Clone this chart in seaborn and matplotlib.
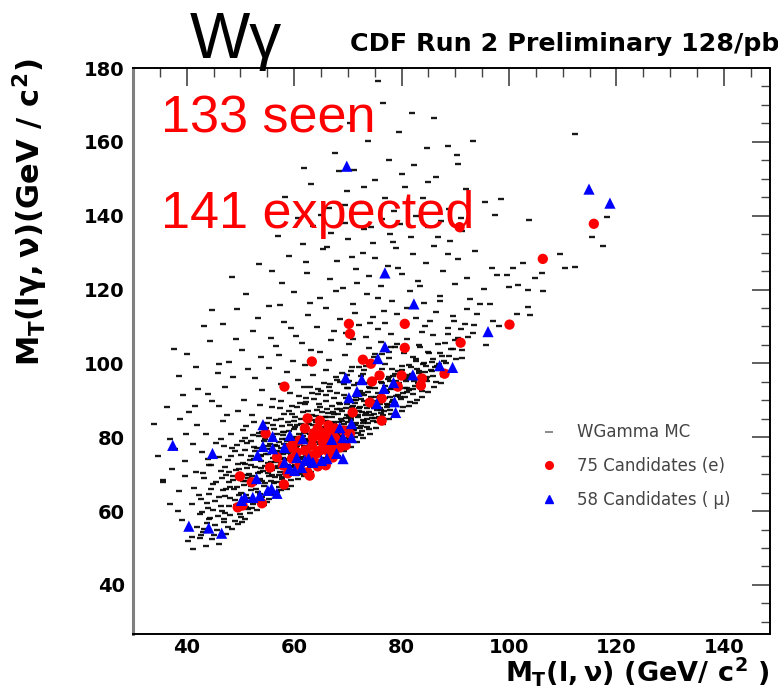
import matplotlib
matplotlib.use("Agg")
import matplotlib.pyplot as plt
import seaborn as sns
from matplotlib.lines import Line2D
from matplotlib.ticker import MultipleLocator

# Electron candidates: MT(l,nu), MT(l gamma,nu) in GeV/c^2
e_x = [115.8, 106.3, 90.8, 100.1, 91.0, 80.6, 80.6, 70.2, 70.4, 63.3,
       72.8, 74.3, 58.2, 75.9, 80.0, 83.8, 83.6, 74.5, 79.3, 88.0,
       76.3, 74.1, 70.9, 76.3, 62.5, 64.8, 66.4, 54.7, 64.0, 65.3,
       66.6, 68.1, 59.7, 56.8, 64.2, 66.4, 55.5, 58.8, 62.9, 49.9,
       52.1, 58.1, 54.0, 50.4, 49.5, 63.6, 59.2, 61.0, 63.8, 62.5,
       57.9, 63.5, 65.1, 67.2, 70.4, 64.8, 67.0, 67.2, 62.0, 63.3,
       64.4, 65.9, 67.6, 68.5, 60.5, 62.0, 65.7, 67.7, 69.2, 62.9,
       61.0, 64.4, 59.6, 65.9, 69.6]
e_y = [137.8, 128.3, 136.9, 110.5, 105.6, 110.7, 104.2, 110.7, 108.0, 100.5,
       101.0, 99.9, 93.7, 96.7, 96.7, 95.9, 94.0, 95.1, 93.7, 97.2,
       90.5, 89.4, 86.7, 84.5, 85.1, 84.5, 83.2, 81.0, 80.5, 78.8,
       79.9, 78.3, 77.8, 74.6, 75.6, 76.1, 71.8, 70.2, 69.6, 69.4,
       67.8, 67.2, 62.1, 61.5, 61.0, 81.0, 77.2, 72.4, 73.2, 70.5,
       72.4, 79.9, 80.5, 81.0, 81.0, 76.4, 76.9, 74.5, 82.4, 77.8,
       82.4, 81.3, 82.4, 77.2, 75.9, 76.4, 77.5, 79.6, 81.8, 75.1,
       79.1, 72.1, 74.2, 72.4, 77.8]

# Muon candidates
mu_x = [69.8, 114.9, 118.8, 76.9, 82.3, 96.1, 76.9, 75.6, 87.1, 89.5,
        69.6, 72.6, 78.5, 82.1, 76.7, 71.7, 70.2, 78.7, 78.9, 70.7,
        68.5, 54.2, 56.0, 59.2, 61.6, 67.0, 70.7, 54.2, 56.0, 58.2,
        53.2, 60.5, 62.7, 66.1, 67.9, 69.1, 58.2, 60.1, 37.4, 44.8,
        53.0, 55.8, 56.8, 50.8, 53.6, 50.2, 40.4, 44.1, 46.5, 75.4,
        69.1, 62.0, 63.5, 65.1, 61.4, 59.2, 52.3, 55.1]
mu_y = [153.4, 147.2, 143.4, 124.5, 116.1, 108.6, 104.5, 101.3, 99.4, 98.9,
        96.1, 95.6, 94.8, 96.9, 93.2, 92.4, 90.7, 89.6, 86.7, 83.7,
        82.6, 83.4, 80.2, 80.5, 79.6, 79.4, 79.9, 77.5, 76.9, 77.2,
        75.1, 74.5, 74.2, 74.2, 75.6, 74.2, 73.2, 71.0, 77.8, 75.6,
        68.8, 66.1, 64.8, 63.7, 64.2, 62.9, 55.9, 55.4, 54.0, 89.1,
        79.9, 73.7, 73.2, 73.7, 71.8, 71.5, 63.7, 65.6]

# W gamma Monte Carlo events
mc_points = [
    # low tail
    (41.2, 49.8), (43.5, 50.6), (40.3, 51.9), (44.8, 52.3), (46.1, 51.2), (42.7, 53.4),
    (47.3, 53.8), (45.6, 54.9), (48.4, 55.2), (41.9, 55.8), (43.8, 56.7), (49.6, 56.4),
    (46.9, 57.1), (39.2, 57.5), (44.4, 58.2), (50.8, 57.9), (48.1, 58.8), (42.5, 59.3),
    (51.7, 59.6), (46.5, 59.9), (38.4, 60.1), (49.9, 60.7), (44.0, 60.9), (53.0, 60.3),
    (47.8, 61.4),
    (36.8, 62.0), (40.9, 61.8), (52.4, 61.9), (55.0, 62.4), (45.3, 62.6), (49.0, 62.9),
    (42.6, 63.3), (51.3, 63.6), (54.1, 63.9), (47.2, 64.1), (56.3, 64.4), (44.1, 64.7),
    (50.2, 65.0), (53.3, 65.2), (38.5, 65.5), (46.8, 65.6), (57.6, 65.8), (55.5, 66.1),
    (41.4, 66.3), (49.4, 66.5), (52.0, 66.8), (58.4, 67.0), (44.9, 67.2), (54.6, 67.5),
    (47.9, 67.8), (56.9, 68.0), (50.9, 68.2), (59.5, 68.4), (53.7, 68.7), (43.2, 68.9),
    (57.8, 69.2), (48.6, 69.4), (55.8, 69.7), (60.3, 69.9), (51.6, 70.1), (35.5, 68.3),
    (39.7, 69.6),
    # core
    (41.8, 70.6), (46.4, 70.8), (54.2, 70.9), (58.8, 71.0), (61.5, 71.2), (49.7, 71.4),
    (56.7, 71.6), (63.0, 71.8), (52.8, 72.0), (59.9, 72.2), (44.6, 72.4), (55.4, 72.5),
    (62.1, 72.7), (57.6, 72.9), (50.5, 73.1), (64.3, 73.3), (60.6, 73.5), (53.9, 73.6),
    (47.7, 73.8), (58.2, 74.0), (62.9, 74.2), (65.5, 74.4), (56.0, 74.5), (61.2, 74.7),
    (51.9, 74.9), (59.4, 75.1), (64.0, 75.3), (54.8, 75.4), (66.7, 75.6), (57.3, 75.8),
    (42.9, 75.9), (62.4, 76.0), (60.1, 76.2), (48.9, 76.4), (65.2, 76.5), (55.9, 76.7),
    (63.6, 76.9), (67.8, 77.1), (58.6, 77.2), (52.6, 77.4), (61.8, 77.6), (66.1, 77.8),
    (56.5, 77.9), (64.8, 78.1), (59.7, 78.3), (68.9, 78.4), (45.5, 78.5), (62.7, 78.7),
    (54.3, 78.9), (67.0, 79.0), (60.9, 79.2), (57.8, 79.4), (65.6, 79.5), (63.9, 79.7),
    (69.7, 79.8), (50.8, 79.9),
    (55.2, 70.3), (60.4, 70.5), (57.9, 73.0), (63.7, 72.4), (59.0, 73.9), (61.7, 75.6),
    (56.9, 76.3), (58.9, 75.7), (63.1, 77.9), (60.3, 77.0), (66.4, 78.9), (62.0, 79.6),
    (64.6, 74.9), (53.1, 74.3), (57.1, 78.6), (61.4, 72.3), (59.6, 70.9), (65.9, 76.9),
    (68.1, 79.3), (55.7, 73.4), (54.0, 76.8), (50.1, 75.2), (47.1, 72.0), (44.0, 74.1),
    (49.3, 77.9), (46.3, 79.4), (52.0, 79.1), (39.6, 73.6), (37.9, 76.8), (41.2, 78.2),
    (43.6, 80.8), (48.2, 81.0), (53.4, 81.1), (58.1, 81.3), (61.9, 81.4), (65.4, 81.6),
    (68.3, 81.7), (70.9, 81.9), (63.5, 82.0), (56.2, 82.2), (66.8, 82.3), (72.2, 82.5),
    (60.2, 82.7), (69.5, 82.9), (64.6, 83.0), (51.0, 83.1), (71.3, 83.3), (67.5, 83.5),
    (62.8, 83.6), (73.8, 83.8), (58.9, 84.0), (70.1, 84.1), (65.9, 84.3), (46.7, 84.4),
    (72.9, 84.6), (68.8, 84.8), (61.3, 84.9), (75.0, 85.1), (55.4, 85.2), (67.1, 85.4),
    (71.8, 85.6), (64.0, 85.8), (74.3, 86.0), (69.9, 86.1), (59.6, 86.3), (76.2, 86.5),
    (66.3, 86.6), (72.6, 86.8), (62.5, 87.0), (49.5, 87.1), (70.7, 87.3), (75.5, 87.5),
    (67.9, 87.7), (57.3, 87.8), (73.5, 88.0), (77.3, 88.2), (64.8, 88.3), (71.0, 88.5),
    (53.6, 88.7), (68.6, 88.9), (76.0, 89.1), (61.0, 89.2), (74.1, 89.4), (78.2, 89.6),
    (66.0, 89.8), (44.8, 89.9),
    (66.1, 80.7), (69.0, 80.4), (63.0, 80.9), (71.9, 81.2), (67.2, 84.0), (70.6, 85.1),
    (73.2, 85.9), (69.3, 83.7), (65.2, 86.9), (72.0, 87.9), (74.8, 88.6), (63.8, 84.6),
    (60.6, 83.3), (68.2, 86.3), (71.4, 89.2), (58.0, 80.5), (55.0, 83.8), (52.2, 86.0),
    (50.4, 81.9), (47.5, 85.9), (42.0, 83.2), (40.4, 86.7), (46.0, 88.4),
    (56.4, 69.1), (58.3, 70.0), (60.8, 71.6), (62.6, 73.0), (64.9, 73.8), (66.3, 74.7),
    (61.0, 74.1), (63.3, 75.9), (65.0, 77.3), (67.4, 76.1), (68.6, 77.6), (66.6, 80.1),
    (69.9, 81.0), (70.4, 79.2), (72.5, 80.6), (71.2, 82.0), (73.5, 82.9), (74.6, 84.4),
    (72.8, 83.9), (70.5, 84.6), (75.8, 85.5), (76.8, 87.0), (74.0, 86.7), (77.9, 87.4),
    (78.6, 88.8), (73.0, 89.7), (69.6, 88.0), (67.1, 88.5), (64.3, 87.4), (62.2, 85.6),
    (60.0, 84.5), (57.7, 83.0), (59.1, 81.8), (61.6, 80.2), (63.9, 78.8), (58.4, 79.6),
    (56.8, 80.8), (54.6, 79.5), (53.0, 77.0), (55.1, 75.4), (57.0, 72.3), (53.6, 70.6),
    (51.2, 71.6), (52.4, 68.5), (49.8, 69.3), (48.0, 66.4), (46.0, 63.8), (51.1, 61.2),
    (50.0, 59.2), (47.0, 57.9), (45.2, 56.1), (43.1, 54.2), (41.0, 53.1), (44.9, 60.2),
    (76.9, 90.6), (79.9, 90.3), (80.6, 93.2), (83.0, 94.6), (81.2, 96.3), (84.4, 97.6),
    (86.2, 98.9), (87.9, 100.7), (88.9, 101.9), (85.9, 101.3),
    # dense ridge along the lower edge
    (50.2, 58.3), (52.1, 60.9), (53.7, 62.9), (55.4, 63.3), (56.8, 65.1), (58.1, 67.9),
    (59.4, 66.9), (60.7, 68.8), (61.8, 69.4), (63.1, 70.6), (64.5, 71.4), (65.7, 72.2),
    (66.9, 73.7), (68.2, 74.9), (69.3, 76.2), (70.5, 77.4), (71.7, 78.6), (72.9, 79.7),
    (74.2, 80.9), (75.3, 82.6), (76.5, 83.7), (77.7, 84.9), (78.9, 86.0), (80.1, 87.1),
    (81.3, 88.4), (82.5, 89.3), (83.8, 90.8), (85.0, 92.2), (86.1, 93.6), (87.3, 94.7),
    (49.5, 62.0), (51.0, 64.4), (52.9, 66.0), (54.3, 66.9), (55.7, 68.2), (57.2, 69.9),
    (58.5, 71.5), (59.9, 71.9), (61.3, 73.0), (62.5, 74.4), (63.7, 75.5), (65.1, 76.2),
    (66.3, 77.6), (67.5, 78.0), (68.8, 80.0), (70.0, 81.3), (71.1, 82.6), (72.4, 83.1),
    (73.6, 84.9), (74.9, 86.2), (76.1, 87.4), (77.3, 88.9), (78.4, 90.2), (79.7, 91.0),
    (81.1, 92.3), (82.2, 93.0), (83.4, 94.1), (84.7, 95.3), (85.8, 96.7), (87.0, 98.1),
    (48.8, 66.0), (50.4, 68.1), (52.2, 69.4), (53.9, 71.6), (55.1, 72.9), (56.6, 74.2),
    (57.9, 75.5), (59.3, 76.0), (60.6, 77.5), (61.9, 78.6), (63.2, 80.1), (64.4, 81.3),
    (65.8, 82.1), (67.0, 83.3), (68.4, 84.0), (69.6, 85.3), (70.9, 86.5), (72.1, 87.2),
    (73.3, 88.8), (74.6, 89.9), (75.9, 91.1), (77.2, 92.2), (78.3, 93.4), (79.5, 94.6),
    (80.8, 95.1), (82.0, 96.6), (83.2, 98.0), (84.5, 99.2), (85.7, 100.4),
    (47.3, 69.9), (49.1, 71.0), (50.8, 72.8), (52.5, 74.2), (53.9, 75.1), (55.4, 76.7),
    (56.9, 77.7), (58.2, 78.1), (59.6, 79.4), (60.9, 80.9), (62.2, 82.0), (63.5, 83.2),
    (64.7, 84.9), (66.0, 85.5), (67.3, 86.8), (68.5, 87.6), (69.8, 89.0), (71.2, 90.0),
    (72.5, 90.4), (73.8, 92.3), (75.1, 93.4), (76.2, 95.0), (77.5, 95.8), (78.8, 97.0),
    (80.1, 98.3), (81.4, 99.6), (82.7, 100.6),
    (46.0, 74.6), (48.4, 77.0), (50.3, 78.9), (52.3, 80.6), (54.1, 81.4), (56.0, 83.4),
    (57.6, 85.0), (59.0, 87.2), (60.5, 88.1), (62.0, 89.1), (63.4, 91.9), (65.0, 92.4),
    (66.4, 93.6), (67.9, 95.6), (69.2, 94.3), (70.6, 97.8), (72.0, 98.9), (73.4, 99.4),
    (74.9, 101.6), (76.3, 102.5), (77.7, 103.0), (79.1, 105.2), (80.6, 104.0),
    # band, column by column
    (42.4, 52.6), (43.3, 55.1), (45.1, 53.6), (44.2, 57.9), (42.9, 59.8), (45.8, 58.6),
    (43.7, 62.1), (46.4, 61.3), (44.6, 65.9), (42.2, 64.4), (45.5, 67.8), (43.0, 70.2),
    (46.6, 69.0), (44.1, 72.6),
    (47.6, 55.7), (48.9, 57.4), (50.3, 56.9), (47.2, 59.6), (49.2, 61.7), (50.7, 62.4),
    (48.1, 63.6), (49.8, 64.3), (47.4, 66.1), (50.6, 67.0), (48.6, 68.3), (51.0, 69.7),
    (47.9, 70.5), (49.6, 72.8), (48.3, 74.9), (50.9, 76.6), (47.0, 77.6),
    (51.5, 60.6), (52.8, 62.5), (54.4, 61.6), (53.6, 64.6), (51.9, 65.7), (54.9, 65.0),
    (52.5, 67.4), (54.0, 68.1), (51.4, 68.9), (53.2, 70.2), (55.3, 69.5), (52.0, 72.6),
    (54.5, 72.1), (51.7, 73.9), (53.8, 74.8), (52.7, 76.3), (55.2, 77.5), (51.3, 78.4),
    (53.5, 80.3), (54.8, 82.4), (52.6, 84.1),
    (55.8, 64.9), (57.1, 66.5), (58.6, 65.9), (56.2, 67.6), (57.7, 68.6), (59.0, 69.8),
    (55.9, 71.1), (57.4, 70.7), (58.9, 72.6), (56.5, 73.2), (58.0, 74.4), (56.3, 75.9),
    (59.2, 76.7), (57.5, 77.1), (55.6, 78.2), (58.7, 79.0), (56.1, 80.0), (57.9, 81.5),
    (59.3, 83.2), (56.7, 84.6), (58.2, 86.2), (55.9, 88.1), (57.5, 89.9),
    (59.7, 70.6), (61.1, 70.1), (62.4, 71.3), (60.2, 72.5), (61.9, 73.4), (59.8, 74.3),
    (62.2, 75.2), (60.7, 76.0), (59.5, 77.6), (61.5, 78.3), (62.8, 79.3), (60.4, 80.1),
    (62.0, 81.1), (59.9, 82.3), (61.2, 83.5), (62.6, 84.3), (60.1, 85.6), (61.6, 86.9),
    (59.6, 88.4), (62.3, 89.6), (60.9, 91.2), (61.8, 93.5),
    (63.4, 72.9), (64.7, 72.6), (66.1, 73.4), (63.9, 74.6), (65.4, 75.7), (66.8, 76.6),
    (64.2, 77.0), (65.8, 78.4), (63.5, 79.0), (64.9, 80.3), (66.5, 81.0), (63.8, 81.8),
    (65.3, 82.8), (66.9, 83.9), (64.1, 84.1), (65.7, 85.4), (63.3, 86.1), (66.2, 87.7),
    (64.6, 88.9), (63.7, 90.4), (65.9, 91.3), (64.4, 93.0), (66.6, 94.4),
    (67.3, 76.3), (68.5, 77.0), (69.8, 78.1), (67.6, 78.7), (69.1, 79.6), (70.6, 80.7),
    (68.0, 80.9), (69.4, 82.1), (70.9, 83.2), (67.7, 83.0), (68.9, 84.4), (70.3, 85.7),
    (67.4, 86.2), (69.0, 87.1), (70.8, 88.3), (68.3, 89.4), (69.7, 90.6), (67.9, 92.0),
    (70.1, 93.3), (68.6, 95.0), (69.9, 96.8),
    (71.4, 80.1), (72.7, 81.8), (74.0, 82.2), (71.6, 83.9), (73.1, 84.4), (74.5, 85.2),
    (71.9, 85.9), (73.4, 86.5), (74.8, 87.8), (72.2, 88.1), (73.7, 89.2), (71.5, 90.2),
    (74.3, 90.9), (72.6, 92.0), (73.9, 93.7), (71.8, 94.6), (74.6, 95.4), (72.9, 97.1),
    (75.4, 84.0), (76.6, 85.9), (78.0, 86.3), (75.9, 87.9), (77.4, 88.6), (78.8, 89.3),
    (76.3, 89.8), (77.8, 90.9), (79.3, 91.4), (75.6, 92.1), (77.1, 92.9), (78.5, 93.9),
    (76.4, 94.6), (79.0, 95.3), (77.6, 96.2), (75.8, 97.5), (78.2, 98.4), (76.9, 99.9),
    (80.3, 88.2), (81.5, 89.6), (82.8, 90.1), (80.7, 91.0), (82.1, 91.6), (83.9, 92.5),
    (81.0, 93.4), (82.4, 95.1), (84.6, 95.8), (80.9, 96.8), (83.2, 97.4), (85.4, 98.2),
    (81.7, 98.9), (84.1, 100.1), (82.6, 101.3), (85.1, 102.7), (83.5, 104.3),
    (86.4, 95.0), (87.8, 96.5), (89.0, 98.0), (86.9, 99.7), (88.3, 100.0), (90.1, 101.1),
    (87.2, 102.9), (89.5, 104.0), (91.3, 103.7), (86.7, 105.3), (90.0, 106.2), (92.4, 107.2),
    (88.6, 107.9), (91.0, 109.3), (93.5, 110.4), (89.8, 111.4), (94.1, 113.5), (92.2, 114.6),
    # upper shoulder
    (50.6, 90.2), (56.1, 90.4), (62.3, 90.5), (67.4, 90.7), (71.6, 90.8), (75.3, 91.0),
    (78.9, 91.2), (73.0, 91.4), (69.2, 91.5), (64.4, 91.7), (80.2, 91.9), (59.2, 92.0),
    (76.6, 92.2), (72.3, 92.4), (66.7, 92.5), (81.4, 92.7), (54.0, 92.9), (78.0, 93.1),
    (74.2, 93.2), (69.9, 93.4), (62.9, 93.6), (82.5, 93.8), (76.9, 93.9), (71.1, 94.1),
    (57.5, 94.3), (79.6, 94.5), (73.7, 94.6), (65.6, 94.8), (83.6, 95.0), (77.8, 95.2),
    (70.3, 95.3), (60.8, 95.5), (80.8, 95.7), (74.9, 95.9), (52.7, 96.0), (67.8, 96.2),
    (84.8, 96.4), (78.5, 96.5), (72.4, 96.7), (63.5, 96.9), (81.9, 97.1), (75.7, 97.2),
    (69.0, 97.4), (58.7, 97.6), (85.7, 97.8), (79.4, 97.9), (73.1, 98.1), (66.0, 98.3),
    (82.9, 98.5), (76.4, 98.6), (55.3, 98.8), (70.8, 99.0), (86.6, 99.2), (80.0, 99.3),
    (62.1, 99.5), (74.5, 99.7), (84.0, 99.9),
    (47.9, 100.3), (59.8, 100.6), (66.4, 100.9), (72.6, 101.2), (77.6, 101.5), (82.1, 101.8),
    (87.5, 102.0), (69.4, 102.3), (75.1, 102.6), (80.5, 102.9), (85.0, 103.2), (63.1, 103.5),
    (89.2, 103.8), (73.9, 104.1), (78.8, 104.4), (56.6, 104.7), (83.3, 105.0), (70.2, 105.3),
    (88.0, 105.6), (76.2, 105.9), (66.9, 106.2), (81.1, 106.5), (90.6, 106.8), (73.3, 107.1),
    (60.4, 107.4), (85.8, 107.7), (78.1, 108.0), (69.6, 108.3), (83.9, 108.6), (52.3, 108.9),
    (75.6, 109.2), (88.7, 109.5), (64.2, 109.8), (80.4, 110.1), (72.0, 110.4), (91.9, 110.7),
    (77.0, 111.0), (58.1, 111.3), (85.3, 111.6), (68.5, 111.9), (82.6, 112.2), (74.6, 112.5),
    (89.6, 112.8), (62.6, 113.1), (79.2, 113.4), (71.3, 113.7), (86.4, 114.0), (76.8, 114.3),
    (49.4, 114.6), (66.0, 114.9),
    (42.1, 93.0), (45.9, 97.3), (40.0, 102.5), (44.3, 106.1), (38.6, 96.6), (50.3, 103.7),
    (36.9, 79.5), (38.7, 84.9), (41.5, 88.4), (43.9, 91.8), (47.2, 93.6), (39.4, 91.4),
    (46.0, 99.9), (48.6, 96.4), (51.4, 98.6), (53.9, 101.6), (55.7, 106.8), (49.1, 106.7),
    (46.8, 110.6), (53.2, 112.2), (57.4, 115.9), (41.7, 99.1), (37.6, 103.9), (44.7, 114.4),
    (51.0, 118.8), (48.4, 123.5), (55.9, 125.0), (43.2, 110.1),
    (57.2, 102.2), (61.4, 105.4), (64.9, 103.2), (67.5, 108.9), (71.0, 106.5), (74.2, 110.9),
    (78.1, 104.4), (81.0, 114.9), (84.3, 110.2), (87.1, 116.8), (59.5, 109.6), (63.0, 116.4),
    (67.8, 119.6), (71.7, 121.7), (75.6, 117.6), (79.3, 125.7), (83.4, 121.0), (88.6, 129.5),
    (62.2, 127.4), (66.1, 131.6), (70.7, 128.9), (74.3, 136.9), (78.4, 132.9), (82.6, 140.0),
    (86.7, 134.2), (91.0, 139.4), (65.0, 140.1), (69.5, 143.0), (73.0, 147.7), (77.0, 144.7),
    (80.0, 151.3), (84.9, 149.2), (68.3, 152.0),
    # high tail
    (55.4, 115.5), (70.9, 116.0), (84.1, 116.4), (78.3, 116.9), (92.7, 117.3), (64.8, 117.8),
    (87.2, 118.2), (73.5, 118.7), (60.0, 119.2), (81.5, 119.6), (95.4, 120.1), (69.1, 120.5),
    (76.1, 121.0), (89.9, 121.4), (57.8, 121.9), (83.0, 122.3), (66.6, 122.8), (92.1, 123.2),
    (74.0, 123.7), (80.1, 124.1), (62.4, 124.6), (87.8, 125.0), (71.5, 125.5), (96.8, 125.9),
    (77.4, 126.4), (53.5, 126.8), (84.6, 127.3), (68.0, 127.7), (90.5, 128.2), (75.1, 128.6),
    (59.0, 129.1), (82.2, 129.5), (72.8, 130.0), (93.6, 130.4), (65.3, 130.9), (79.0, 131.3),
    (86.1, 131.8), (61.7, 132.3), (74.7, 132.7), (89.1, 133.2), (70.1, 133.6), (81.8, 134.1),
    (57.0, 134.5), (77.9, 135.0), (66.9, 135.4), (91.3, 135.9), (73.1, 136.3), (84.9, 136.8),
    (63.6, 137.2), (79.7, 137.7), (69.4, 138.1), (87.3, 138.6), (76.3, 139.0), (60.7, 139.5),
    (95.5, 143.7), (98.5, 144.5), (97.4, 140.2), (103.7, 138.8), (118.2, 139.6), (115.4, 134.2),
    (117.5, 131.8), (109.5, 129.6), (110.4, 125.8), (112.3, 126.1), (102.6, 127.2), (100.7, 125.8),
    (97.7, 123.9), (99.6, 123.9), (104.8, 123.1), (106.1, 124.5), (101.6, 121.2), (100.0, 120.7),
    (103.5, 119.9), (106.3, 119.6), (101.5, 113.5), (103.9, 113.2), (103.5, 115.3), (97.0, 111.6),
    (94.6, 116.2), (96.4, 116.2), (93.3, 108.2), (95.8, 105.1), (91.2, 101.4), (98.2, 110.0),
    (112.3, 162.1), (93.3, 160.3), (88.6, 158.8), (90.3, 156.5), (90.5, 154.1), (75.6, 176.5),
    (81.9, 167.9), (66.5, 142.2), (72.3, 143.5), (78.6, 141.4), (84.0, 144.8), (69.8, 146.7),
    (80.7, 147.9), (63.2, 148.6), (75.0, 149.8), (86.5, 150.6), (71.1, 152.3), (82.4, 153.6),
    (77.6, 155.2), (67.7, 157.0), (84.7, 158.4), (73.8, 160.1), (79.5, 162.6), (70.4, 165.2),
    (86.0, 166.4), (58.3, 145.0), (61.8, 152.9), (76.5, 170.5), (92.0, 147.3), (88.9, 141.8),
    # far left
    (33.9, 83.7), (35.5, 68.0), (37.2, 71.4), (34.6, 74.9), (39.9, 80.9), (36.3, 88.2),
]
mc_x = [p[0] for p in mc_points]
mc_y = [p[1] for p in mc_points]

EXPECTED = 141
x_ticks = [40, 60, 80, 100, 120, 140]
y_ticks = [40, 60, 80, 100, 120, 140, 160, 180]

sns.set_style("white")
plt.rcParams["font.family"] = ["DejaVu Sans"]
plt.rcParams.update({
    "mathtext.fontset": "custom",
    "mathtext.rm": "DejaVu Sans:bold",
    "mathtext.it": "DejaVu Sans:bold",
    "mathtext.bf": "DejaVu Sans:bold",
    "text.color": "black",
})

W, H = 778, 692
fig = plt.figure(figsize=(W / 100, H / 100), dpi=100)
ax = fig.add_axes([133 / W, 1 - 634 / H, (770 - 133) / W, (634 - 68) / H])

sns.scatterplot(x=mc_x, y=mc_y, marker="_", s=22, color="#000000",
                edgecolor="#000000", linewidth=1.7, alpha=0.9, ax=ax, legend=False, zorder=2)
sns.scatterplot(x=e_x, y=e_y, marker="o", s=55, color="#ff0000",
                edgecolor="none", ax=ax, legend=False, zorder=3)
sns.scatterplot(x=mu_x, y=mu_y, marker="^", s=65, color="#0000ff",
                edgecolor="none", ax=ax, legend=False, zorder=4)

ax.set_xlim(30, 148.6)
ax.set_ylim(26.7, 180)
ax.set_xticks(x_ticks)
ax.set_yticks(y_ticks)
ax.xaxis.set_minor_locator(MultipleLocator(5))
ax.yaxis.set_minor_locator(MultipleLocator(5))
ax.tick_params(which="both", direction="in", top=True, right=True, color="#444444")
ax.tick_params(which="major", length=13, width=1.2, labelsize=14, labelcolor="black")
ax.tick_params(axis="y", which="major", pad=6)
ax.tick_params(axis="x", which="major", pad=3)
ax.tick_params(which="minor", length=6.5, width=1.0)
for lab in ax.get_xticklabels() + ax.get_yticklabels():
    lab.set_fontweight("bold")
for side in ["top", "bottom", "right"]:
    ax.spines[side].set_color("black")
    ax.spines[side].set_linewidth(1.4)
ax.spines["left"].set_color("#808080")
ax.spines["left"].set_linewidth(2.2)
ax.set_xlabel("")
ax.set_ylabel("")

# annotations
ax.text(35.2, 162.4, f"{len(e_x) + len(mu_x)} seen", color="#ff0000",
        fontsize=37.5, family="Liberation Sans", va="baseline", zorder=5)
ax.text(35.2, 136.6, f"{EXPECTED} expected", color="#ff0000",
        fontsize=37.5, family="Liberation Sans", va="baseline", zorder=5)

fig.text(190 / W, 1 - 58 / H, "Wγ", fontsize=46, family="Liberation Sans",
         color="black", va="baseline", ha="left", zorder=6)
fig.text(350 / W, 1 - 51 / H, "CDF Run 2 Preliminary 128/pb", fontsize=18.3,
         fontweight="bold", color="black", va="baseline", ha="left")

fig.text(30 / W, 1 - 58 / H, r"$M_T(l\gamma,\nu)(GeV\ /\ c^2)$", rotation=90,
         fontsize=22, color="black", ha="center", va="top")
fig.text(770 / W, 1 - 682 / H, r"$M_T(l,\nu)\ (GeV/\ c^2\ )$",
         fontsize=19.5, color="black", ha="right", va="baseline")

handles = [
    Line2D([], [], ls="none", marker="_", color="#777777", markersize=6, mew=1.2),
    Line2D([], [], ls="none", marker="o", color="#ff0000", markersize=5.5),
    Line2D([], [], ls="none", marker="^", color="#0000ff", markersize=6),
]
labels = ["WGamma MC", f"{len(e_x)} Candidates (e)", f"{len(mu_x)} Candidates ( μ)"]
leg = ax.legend(handles, labels, loc="upper left", bbox_to_anchor=(532 / W, 1 - 415 / H),
                bbox_transform=fig.transFigure, frameon=False, fontsize=12,
                handlelength=1.0, handletextpad=1.2, labelspacing=0.95, borderpad=0)
for t in leg.get_texts():
    t.set_color("#444444")

fig.savefig("out.png", dpi=100)
